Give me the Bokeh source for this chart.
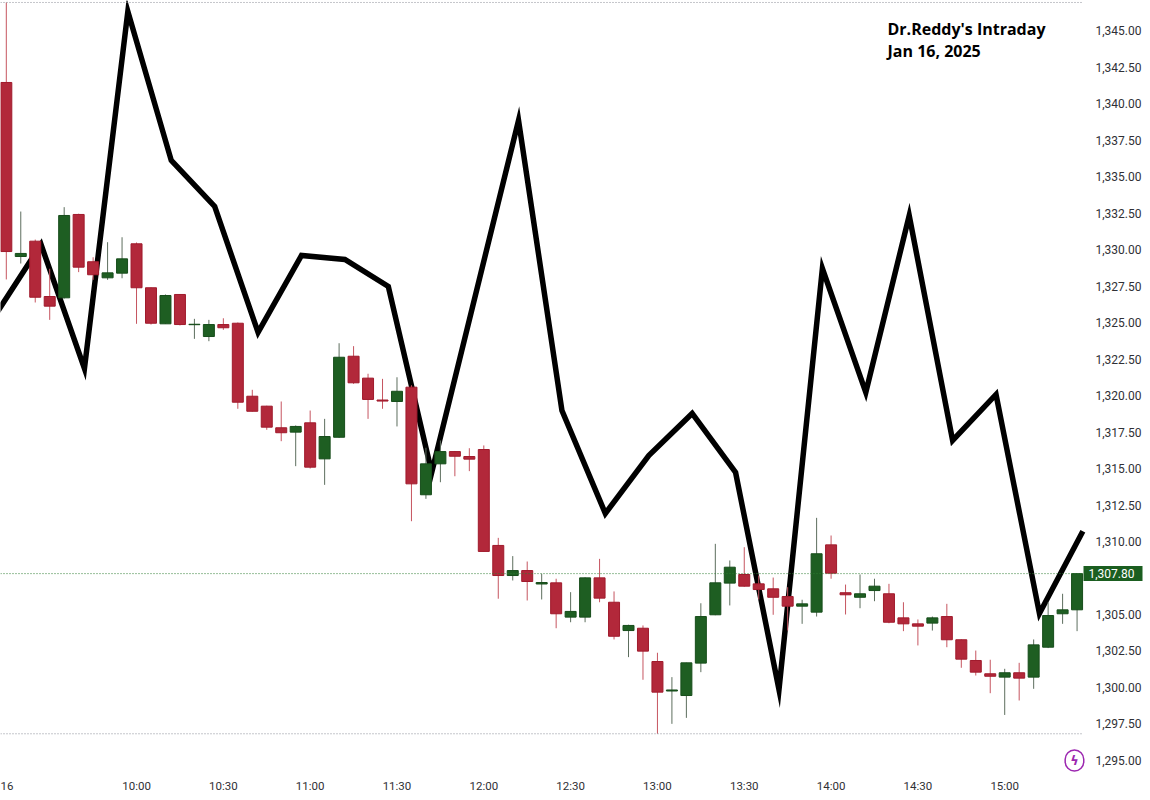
import pandas as pd
from bokeh.plotting import figure
from bokeh.models import (Range1d, FixedTicker, NumeralTickFormatter, Label,
                          LinearAxis, ColumnDataSource)
from bokeh.embed import file_html
from bokeh.resources import INLINE

# ---------------- data ----------------
title_lines = ["Dr.Reddy's Intraday", "Jan 16, 2025"]

opens = [1341.44, 1329.52, 1330.57, 1326.78, 1326.69, 1332.40, 1329.16, 1328.06, 1328.38, 1330.39,
         1327.38, 1324.91, 1326.92, 1324.85, 1324.04, 1324.86, 1324.95, 1319.95, 1319.27, 1317.79,
         1317.49, 1318.13, 1315.66, 1317.14, 1322.69, 1321.19, 1319.69, 1319.59, 1320.57, 1313.20,
         1315.32, 1316.16, 1315.82, 1316.30, 1309.73, 1307.67, 1308.01, 1307.09, 1307.17, 1304.82,
         1304.82, 1307.51, 1305.84, 1303.90, 1304.06, 1301.78, 1299.76, 1299.45, 1301.67, 1304.98,
         1307.15, 1307.74, 1307.10, 1306.76, 1306.23, 1305.57, 1305.16, 1309.77, 1306.49, 1306.18,
         1306.64, 1306.42, 1304.77, 1304.36, 1304.41, 1304.86, 1303.27, 1301.85, 1300.94, 1300.71,
         1301.01, 1300.71, 1302.76, 1305.05, 1305.32]
highs = [1346.92, 1332.60, 1330.68, 1328.68, 1332.90, 1332.45, 1329.47, 1330.50, 1330.84, 1330.48,
         1327.40, 1326.92, 1326.95, 1325.25, 1325.18, 1325.29, 1325.00, 1320.39, 1319.30, 1319.59,
         1317.95, 1318.97, 1318.40, 1323.58, 1323.38, 1321.49, 1321.14, 1321.25, 1320.70, 1316.42,
         1316.92, 1316.20, 1316.39, 1316.58, 1310.25, 1309.00, 1308.63, 1307.79, 1307.45, 1306.53,
         1307.55, 1308.81, 1306.58, 1304.30, 1304.25, 1302.38, 1300.71, 1301.70, 1305.77, 1309.84,
         1308.70, 1309.61, 1307.67, 1307.53, 1306.87, 1306.01, 1311.62, 1310.41, 1307.05, 1307.74,
         1307.45, 1307.10, 1305.84, 1304.66, 1304.86, 1305.73, 1303.30, 1302.53, 1301.90, 1301.28,
         1301.69, 1303.29, 1305.84, 1306.42, 1307.80]
lows = [1327.95, 1329.04, 1326.37, 1325.18, 1326.64, 1328.45, 1327.92, 1327.92, 1328.03, 1324.91,
        1324.86, 1324.90, 1324.80, 1323.88, 1323.72, 1324.50, 1319.09, 1318.90, 1317.65, 1316.87,
        1315.16, 1315.00, 1313.88, 1317.10, 1320.80, 1318.40, 1319.09, 1317.88, 1311.39, 1312.92,
        1314.06, 1314.47, 1314.82, 1309.30, 1306.08, 1307.33, 1305.96, 1306.03, 1304.06, 1304.47,
        1304.47, 1305.84, 1303.29, 1302.08, 1300.53, 1296.83, 1297.51, 1297.92, 1301.05, 1304.95,
        1305.62, 1306.90, 1306.03, 1304.98, 1303.90, 1304.36, 1304.86, 1307.45, 1305.00, 1305.43,
        1305.91, 1304.40, 1303.86, 1302.88, 1303.90, 1302.76, 1301.35, 1300.82, 1299.61, 1298.12,
        1299.11, 1299.91, 1302.70, 1304.36, 1303.86]
closes = [1329.86, 1329.73, 1326.73, 1326.12, 1332.33, 1328.79, 1328.27, 1328.40, 1329.36, 1327.38,
          1324.95, 1326.85, 1324.86, 1324.88, 1324.86, 1324.64, 1319.54, 1318.92, 1317.83, 1317.45,
          1317.88, 1315.09, 1317.19, 1322.62, 1320.87, 1319.73, 1319.62, 1320.29, 1313.95, 1315.32,
          1316.16, 1315.84, 1315.64, 1309.32, 1307.67, 1308.01, 1307.26, 1307.19, 1305.05, 1305.21,
          1307.51, 1306.12, 1303.51, 1304.25, 1302.49, 1299.68, 1299.83, 1301.69, 1304.86, 1307.17,
          1308.24, 1306.94, 1306.71, 1306.18, 1305.57, 1305.73, 1309.16, 1307.83, 1306.35, 1306.42,
          1306.94, 1304.47, 1304.36, 1304.20, 1304.77, 1303.27, 1301.94, 1301.05, 1300.77, 1301.01,
          1300.64, 1302.92, 1304.93, 1305.32, 1307.80]

# black overlay line (positions in bar units, values in price)
line_pos = [-0.6, 2.4, 5.4, 8.4, 11.4, 14.4, 17.4, 20.4, 23.4, 26.4, 29.4, 35.4, 38.4,
            41.4, 44.4, 47.4, 50.4, 53.4, 56.4, 59.4, 62.4, 65.4, 68.4, 71.4, 74.4]
line_vals = [1325.75, 1330.34, 1321.85, 1346.30, 1336.10, 1332.95, 1324.32, 1329.59, 1329.32,
             1327.47, 1314.73, 1338.84, 1318.97, 1311.92, 1315.89, 1318.77, 1314.73, 1299.86,
             1328.70, 1320.21, 1332.33, 1316.92, 1320.07, 1305.07, 1310.70]

tick_times = ["09:15", "10:00", "10:30", "11:00", "11:30", "12:00", "12:30",
              "13:00", "13:30", "14:00", "14:30", "15:00"]
tick_labels = ["16", "10:00", "10:30", "11:00", "11:30", "12:00", "12:30",
               "13:00", "13:30", "14:00", "14:30", "15:00"]
price_ticks = [1295.0, 1297.5, 1300.0, 1302.5, 1305.0, 1307.5, 1310.0, 1312.5, 1315.0,
               1317.5, 1320.0, 1322.5, 1325.0, 1327.5, 1330.0, 1332.5, 1335.0, 1337.5,
               1340.0, 1342.5, 1345.0]

# bar timestamps (5-minute bars)
bar_times = list(pd.date_range("2025-01-16 09:15", periods=len(opens), freq="5min").strftime("%H:%M"))

# ---------------- styling ----------------
UP_FILL, UP_LINE, UP_WICK = "#1e5e22", "#174d1b", "#5d6e5e"
DN_FILL, DN_LINE, DN_WICK = "#b2283a", "#a01a2c", "#c65560"
TAG = "#1b5e20"
TEXT = "#2f3035"

xs = list(range(len(opens)))
up = [c >= o for o, c in zip(opens, closes)]
src = ColumnDataSource(dict(
    x=xs, high=highs, low=lows,
    top=[max(o, c) for o, c in zip(opens, closes)],
    bottom=[min(o, c) for o, c in zip(opens, closes)],
    fill=[UP_FILL if u else DN_FILL for u in up],
    edge=[UP_LINE if u else DN_LINE for u in up],
    wick=[UP_WICK if u else DN_WICK for u in up],
))

# the frame spans the whole width; the price scale is an axis pinned at the pane edge
X0, X1 = -0.401, 79.075
PANE_END = 74.445            # x position of the price-scale edge
p = figure(width=1150, height=800, output_backend="svg", toolbar_location=None,
           x_range=Range1d(X0, X1), y_range=Range1d(1294.178, 1347.055),
           y_axis_location=None,
           min_border_left=0, min_border_top=0, min_border_right=0, min_border_bottom=28)
p.outline_line_color = None
p.grid.visible = False
p.background_fill_color = "white"
p.border_fill_color = "white"

# overlay line first (under candles)
p.line(line_pos, line_vals, line_color="black", line_width=5.5, line_join="miter")

# candles
p.segment(x0="x", y0="high", x1="x", y1="low", line_color="wick", line_width=1, source=src)
p.vbar(x="x", width=0.76, top="top", bottom="bottom", fill_color="fill",
       line_color="edge", line_width=1, source=src)

# reference lines across the pane: day high, day low (grey) and last price (green)
ref_levels = [max(highs), min(lows), closes[-1]]
p.segment(x0=[X0] * 3, x1=[PANE_END] * 3, y0=ref_levels, y1=ref_levels,
          line_color=["#8a8d96", "#8a8d96", "#2e7d32"], line_dash="1 2", line_width=1)

# time axis
xa = p.xaxis[0]
xa.ticker = FixedTicker(ticks=[bar_times.index(t) for t in tick_times])
xa.major_label_overrides = {bar_times.index(t): lab for t, lab in zip(tick_times, tick_labels)}

# price axis pinned at the pane edge
ya = LinearAxis(fixed_location=PANE_END,
                ticker=FixedTicker(ticks=[t for t in price_ticks if abs(t - closes[-1]) > 1.0]),
                formatter=NumeralTickFormatter(format="0,0.00"))
p.add_layout(ya, "right")

for ax, fs, so in ((xa, "11.5px", 6), (ya, "12px", 12)):
    ax.axis_line_color = None
    ax.major_tick_line_color = None
    ax.minor_tick_line_color = None
    ax.major_tick_out = 0
    ax.major_tick_in = 0
    ax.minor_tick_out = 0
    ax.major_label_standoff = so
    ax.major_label_text_font = "Roboto"
    ax.major_label_text_font_size = fs
    ax.major_label_text_color = TEXT

# last price tag: a second pinned axis whose single tick is drawn as a filled box
tag_axis = LinearAxis(fixed_location=PANE_END, ticker=FixedTicker(ticks=[closes[-1]]),
                      formatter=NumeralTickFormatter(format="0,0.00"))
tag_axis.axis_line_color = None
tag_axis.minor_tick_line_color = None
tag_axis.major_tick_line_color = TAG
tag_axis.major_tick_line_width = 15
tag_axis.major_tick_line_cap = "butt"
tag_axis.major_tick_in = 0
tag_axis.major_tick_out = 59
tag_axis.major_label_standoff = -54
tag_axis.major_label_text_color = "white"
tag_axis.major_label_text_font = "Roboto"
tag_axis.major_label_text_font_size = "12px"
p.add_layout(tag_axis, "right")

# title text
for txt, yv in zip(title_lines, (1345.12, 1343.63)):
    p.add_layout(Label(x=60.90, y=yv, text=txt, text_font="Open Sans",
                       text_font_style="bold", text_font_size="16px", text_color="black",
                       text_baseline="alphabetic"))

# small purple badge
p.add_layout(Label(x=73.82, y=1295.0, text="ϟ", text_align="center", text_baseline="middle",
                   text_color="#9c27b0", text_font="DejaVu Sans", text_font_size="13px",
                   text_font_style="bold", border_line_color="#9c27b0", border_line_width=1.5,
                   border_radius=10, padding=(5, 3)))

open("out.html", "w").write(file_html(p, INLINE))
